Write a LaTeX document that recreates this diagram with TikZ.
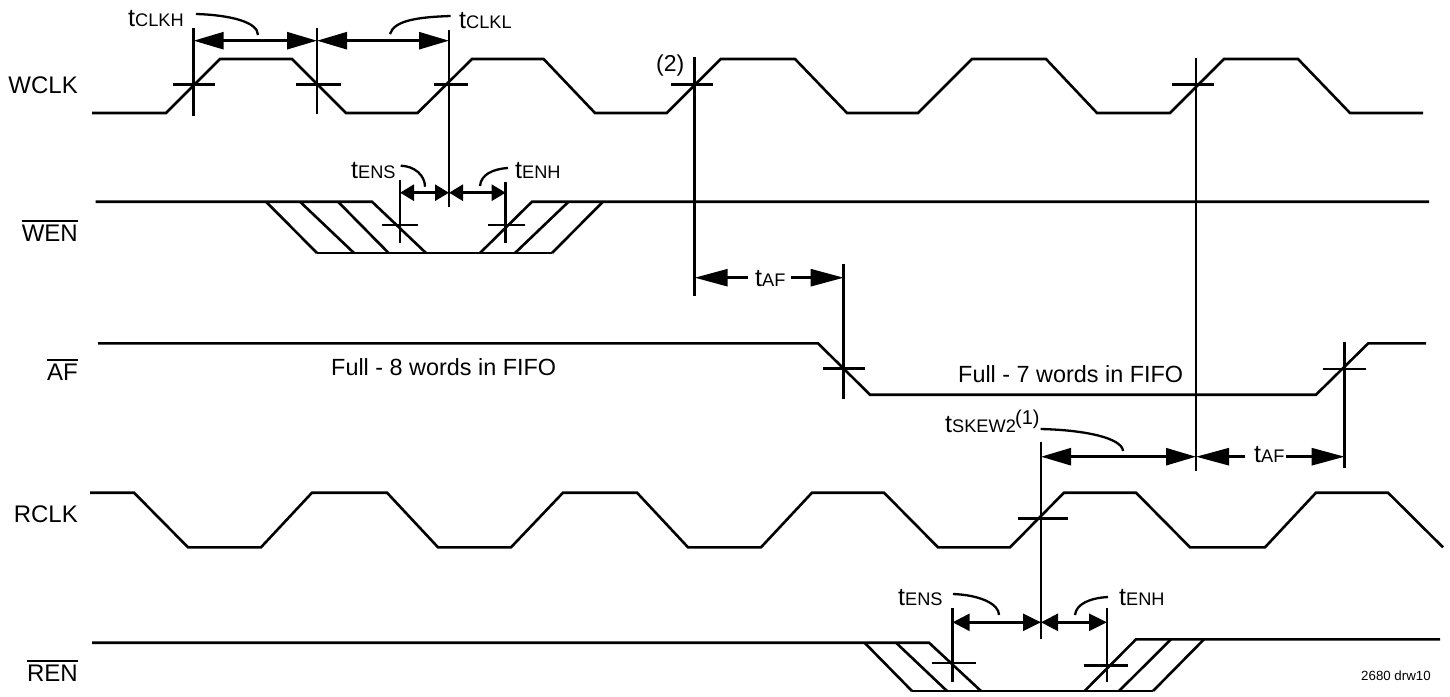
\documentclass[tikz,border=0pt]{standalone}
\usepackage{fontspec}
\setmainfont{Liberation Sans}
\usetikzlibrary{arrows.meta}
\newcommand{\tlab}[1]{{\fontsize{25}{26}\selectfont t}{\fontsize{18.2}{20}\selectfont #1}}
\newcommand{\barred}[1]{\vbox{\hrule height 1.4pt\kern 3.3pt\hbox{#1}}}
\tikzset{
  wire/.style={line width=2.6pt,line join=miter,black},
  leader/.style={line width=2.3pt,black},
  bigdim/.style={wire,{Triangle[length=30pt,width=17pt,inset=0pt]}-{Triangle[length=30pt,width=17pt,inset=0pt]}},
  smalldim/.style={wire,{Triangle[length=14pt,width=16pt,inset=0pt]}-{Triangle[length=14pt,width=16pt,inset=0pt]}},
  lowdim/.style={wire,{Triangle[length=17pt,width=17pt,inset=0pt]}-{Triangle[length=18pt,width=17pt,inset=0pt]}},
  midleft/.style={wire,{Triangle[length=33pt,width=17pt,inset=0pt]}-},
  midright/.style={wire,-{Triangle[length=33pt,width=17pt,inset=0pt]}},
  siglabel/.style={inner sep=0pt,anchor=base east,font=\fontsize{24}{25}\selectfont},
  timelabel/.style={inner sep=0pt,anchor=base west},
  note/.style={inner sep=0pt,anchor=base west,font=\fontsize{23.4}{25}\selectfont},
}
\begin{document}
\begin{tikzpicture}[x=1pt,y=-1pt]
\useasboundingbox (0,0) rectangle (1450,696);
% timing points
\coordinate (a1) at (193.6,40.7);
\coordinate (a2) at (317,40.7);
\coordinate (a3) at (449,40.7);
\coordinate (b1) at (400,192.7);
\coordinate (b2) at (449,192.7);
\coordinate (b3) at (505.7,192.7);
\coordinate (c1) at (694.7,277.7);
\coordinate (c2) at (843.7,277.7);
\coordinate (c1e) at (747.7,277.7);
\coordinate (c2s) at (791,277.7);
\coordinate (d1) at (1041,456.7);
\coordinate (d2) at (1196,456.7);
\coordinate (d3) at (1344.7,456.7);
\coordinate (d2e) at (1245,456.7);
\coordinate (d3s) at (1286,456.7);
\coordinate (e1) at (952.6,622.3);
\coordinate (e2) at (1041,622.3);
\coordinate (e3) at (1107,622.3);
% signal labels
\node[siglabel] (wclk) at (78,93.5) {WCLK};
\node[siglabel] (wen) at (78,241.7) {\barred{WEN}};
\node[siglabel] (af) at (78,380.7) {\barred{AF}};
\node[siglabel] (rclk) at (78,522.7) {RCLK};
\node[siglabel] (ren) at (78,681.7) {\barred{REN}};
% WCLK
\draw[wire] (92,113) -- (166,113) -- (220,59) -- (292,59) -- (346,113) -- (417.5,113) -- (472,59) -- (543.6,59) -- (595,113) -- (666.7,113) -- (720.7,59) -- (795,59) -- (847,113) -- (918,113) -- (972,59) -- (1046,59) -- (1097,113) -- (1170,113) -- (1224,59) -- (1298,59) -- (1350,113) -- (1423,113);
% WEN
\draw[wire] (95.7,201.7) -- (372,201.7) -- (426,253);
\draw[wire] (317,253) -- (552,253);
\draw[wire] (480,253) -- (532,201.7) -- (1429,201.7);
\draw[wire] (266,201.7) -- (317,253);
\draw[wire] (300,201.7) -- (354,253);
\draw[wire] (338,201.7) -- (388.6,253);
\draw[wire] (515,253) -- (568.6,201.7);
\draw[wire] (552,253) -- (603,201.7);
% AF
\draw[wire] (98,343.3) -- (818,343.3) -- (870,394.7) -- (1316,394.7) -- (1368.3,343.3) -- (1426,343.3);
% RCLK
\draw[wire] (90,492.7) -- (134,492.7) -- (188,547.3) -- (261,547.3) -- (312,492.7) -- (387,492.7) -- (438,547.3) -- (511,547.3) -- (563,492.7) -- (637,492.7) -- (688,547.3) -- (761,547.3) -- (812,492.7) -- (884,492.7) -- (938,547.3) -- (1010,547.3) -- (1064,492.7) -- (1136,492.7) -- (1190,547.3) -- (1265,547.3) -- (1316,492.7) -- (1388,492.7) -- (1443,547.3);
% REN
\draw[wire] (92,642.7) -- (929,642.7) -- (981,691);
\draw[wire] (912,691) -- (1153,691);
\draw[wire] (1084.6,691) -- (1136,639.3) -- (1440,639.3);
\draw[wire] (864.5,642.7) -- (912,691);
\draw[wire] (896,642.7) -- (947,691);
\draw[wire] (1119,691) -- (1171,639.3);
\draw[wire] (1153,691) -- (1204,639.3);
% verticals
\draw[wire] (193.6,28) -- (193.6,116);
\draw[wire] (317,28) -- (317,114);
\draw[wire] (449,30) -- (449,207);
\draw[wire] (400,180) -- (400,243);
\draw[wire] (505.7,182) -- (505.7,243);
\draw[wire] (694.7,57.3) -- (694.7,296);
\draw[wire] (1196,57.7) -- (1196,470.7);
\draw[wire] (843.7,264) -- (843.7,399);
\draw[wire] (1344.7,341.7) -- (1344.7,468);
\draw[wire] (1041,442) -- (1041,639);
\draw[wire] (952.6,608) -- (952.6,682);
\draw[wire] (1107,608) -- (1107,682);
% horizontal ticks
\draw[wire] (173,84.3) -- (215,84.3);
\draw[wire] (296,84.3) -- (341,84.3);
\draw[wire] (433.6,84.3) -- (467.5,84.3);
\draw[wire] (670.7,84.3) -- (713.3,84.3);
\draw[wire] (1171.7,84.3) -- (1214.3,84.3);
\draw[wire] (382,225) -- (418,225);
\draw[wire] (488,225) -- (525,225);
\draw[wire] (822.7,368.7) -- (865,368.7);
\draw[wire] (1323.3,369) -- (1366,369);
\draw[wire] (1018,518.3) -- (1068,518.3);
\draw[wire] (931.5,663) -- (976,663);
\draw[wire] (1083.5,665.7) -- (1128,665.7);
% dimension arrows
\draw[bigdim] (a1) -- (a2);
\draw[bigdim] (a2) -- (a3);
\draw[smalldim] (b1) -- (b2);
\draw[smalldim] (b2) -- (b3);
\draw[midleft] (c1) -- (c1e);
\draw[midright] (c2s) -- (c2);
\draw[bigdim] (d1) -- (d2);
\draw[midleft] (d2) -- (d2e);
\draw[midright] (d3s) -- (d3);
\draw[lowdim] (e1) -- (e2);
\draw[lowdim] (e2) -- (e3);
% time labels
\node[timelabel] (tclkh) at (128,26) {\tlab{CLKH}};
\node[timelabel] (tclkl) at (459,28.3) {\tlab{CLKL}};
\node[timelabel] (tens1) at (351,178.3) {\tlab{ENS}};
\node[timelabel] (tenh1) at (515,178.3) {\tlab{ENH}};
\node[timelabel] (taf1) at (755,286.7) {\tlab{AF}};
\node[timelabel] (taf2) at (1254,462.3) {\tlab{AF}};
\node[timelabel] (tskew) at (945,432.7) {\tlab{SKEW2}};
\node[timelabel,font=\fontsize{20}{22}\selectfont] (sup1) at (1015,424) {(1)};
\node[timelabel] (tens2) at (898,605.7) {\tlab{ENS}};
\node[timelabel] (tenh2) at (1119,605.7) {\tlab{ENH}};
\node[timelabel,font=\fontsize{23}{25}\selectfont] (two) at (656,71.5) {(2)};
\node[note] (f8) at (331,375) {Full - 8 words in FIFO};
\node[note] (f7) at (958,382) {Full - 7 words in FIFO};
\node[timelabel,font=\fontsize{13.3}{14}\selectfont] (drw) at (1361,680.5) {2680 drw10};
% leader curves
\coordinate (l1a) at (196,14);
\coordinate (l1b) at (258,35);
\draw[leader] (l1a) .. controls (230,15) and (258,22) .. (l1b);
\coordinate (l2a) at (450.7,16);
\coordinate (l2b) at (390,34);
\draw[leader] (l2a) .. controls (420,17) and (394,20) .. (l2b);
\coordinate (l3a) at (400.7,165.7);
\coordinate (l3b) at (425,186.7);
\draw[leader] (l3a) .. controls (414,166) and (425,175) .. (l3b);
\coordinate (l4a) at (508,168);
\coordinate (l4b) at (480,186);
\draw[leader] (l4a) .. controls (492,169) and (481,175) .. (l4b);
\coordinate (l5a) at (1040.6,429);
\coordinate (l5b) at (1123,451);
\draw[leader] (l5a) .. controls (1085,430) and (1122,438) .. (l5b);
\coordinate (l6a) at (953,594);
\coordinate (l6b) at (999,615);
\draw[leader] (l6a) .. controls (980,595) and (999,604) .. (l6b);
\coordinate (l7a) at (1108,597);
\coordinate (l7b) at (1075,615);
\draw[leader] (l7a) .. controls (1090,598) and (1076,604) .. (l7b);
\end{tikzpicture}
\end{document}
